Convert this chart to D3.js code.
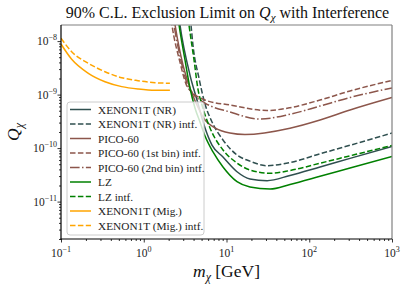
<!DOCTYPE html>
<html>
<head>
<meta charset="utf-8">
<script src="https://cdn.jsdelivr.net/npm/d3@7"></script>
<style>
  html, body { margin: 0; padding: 0; background: #fff; }
  svg { display: block; font-family: "Liberation Serif", "DejaVu Serif", serif; }
</style>
</head>
<body>
<svg id="chart" width="407" height="287"></svg>
<script>
// ---------------- data (mass in GeV, Q_chi) ----------------
const xTicks = [0.1, 1, 10, 100, 1000];
const xTickExp = ["\u22121", "0", "1", "2", "3"];
const yTicks = [1e-11, 1e-10, 1e-9, 1e-8];
const yTickExp = ["\u221211", "\u221210", "\u22129", "\u22128"];

const mXenonNR = [2.59, 2.74, 3.62, 4.40, 5.50, 6.68, 9.07, 13.4, 19.2, 30.9, 58.5, 135, 311, 1000];
const qXenonNR = [3.81e-8, 2.0e-8, 2.32e-9, 7.93e-10, 2.38e-10, 1.14e-10, 6.82e-11, 3.62e-11, 2.65e-11, 2.46e-11, 3.08e-11, 4.44e-11, 6.42e-11, 1.07e-10];

const mXenonNRIntf = [3.52, 3.72, 3.94, 4.65, 5.50, 6.68, 9.07, 13.4, 19.2, 30.9, 58.5, 135, 311, 1000];
const qXenonNRIntf = [3.81e-8, 2.0e-8, 8.20e-9, 2.04e-9, 6.67e-10, 3.08e-10, 1.42e-10, 7.43e-11, 5.70e-11, 4.69e-11, 5.38e-11, 7.82e-11, 1.13e-10, 1.91e-10];

const mPico = [2.26, 2.39, 2.98, 3.62, 4.28, 5.50, 7.26, 11.0, 16.7, 58.5, 135, 311, 1000];
const qPico = [3.5e-8, 2.0e-8, 3.57e-9, 1.33e-9, 6.96e-10, 3.35e-10, 2.38e-10, 1.91e-10, 1.79e-10, 2.35e-10, 3.35e-10, 5.16e-10, 8.83e-10];

const mPico1 = [2.08, 2.19, 2.74, 3.24, 3.94, 5.50, 11.0, 30.9, 58.5, 135, 311, 1000];
const qPico1 = [3.5e-8, 2.0e-8, 4.06e-9, 1.58e-9, 1.07e-9, 7.92e-10, 6.39e-10, 5.05e-10, 5.69e-10, 7.92e-10, 1.17e-9, 1.84e-9];

const mPico2 = [2.19, 2.32, 2.90, 3.42, 3.94, 5.50, 11.0, 25.4, 58.5, 135, 311, 1000];
const qPico2 = [3.5e-8, 2.0e-8, 3.57e-9, 1.45e-9, 1.03e-9, 6.96e-10, 4.73e-10, 3.50e-10, 4.29e-10, 6.12e-10, 8.83e-10, 1.33e-9];

const mLZ = [2.52, 2.67, 3.15, 3.62, 4.16, 4.78, 5.50, 6.87, 9.07, 13.4, 19.2, 33.6, 58.5, 135, 311, 1000];
const qLZ = [3.81e-8, 2.0e-8, 4.44e-9, 1.33e-9, 5.62e-10, 3.08e-10, 1.68e-10, 8.46e-11, 4.44e-11, 2.36e-11, 1.88e-11, 1.72e-11, 2.09e-11, 2.97e-11, 4.25e-11, 6.97e-11];

const mLZIntf = [3.33, 3.52, 4.05, 4.52, 5.06, 6.32, 9.07, 13.4, 19.2, 33.6, 58.5, 135, 311, 1000];
const qLZIntf = [3.81e-8, 2.0e-8, 4.44e-9, 1.27e-9, 6.39e-10, 2.38e-10, 9.21e-11, 5.27e-11, 3.90e-11, 3.38e-11, 3.81e-11, 5.22e-11, 7.18e-11, 1.12e-10];

const mMig = [0.1, 0.1346, 0.214, 0.340, 0.542, 0.852, 1.37, 2.07];
const qMig = [8.83e-9, 4.57e-9, 2.50e-9, 1.74e-9, 1.41e-9, 1.27e-9, 1.20e-9, 1.20e-9];

const mMigIntf = [0.1, 0.1346, 0.214, 0.340, 0.542, 0.852, 1.37, 2.07];
const qMigIntf = [1.13e-8, 6.34e-9, 3.85e-9, 2.68e-9, 2.07e-9, 1.82e-9, 1.67e-9, 1.63e-9];

const seriesNames = ["XENON1T (NR)", "XENON1T (NR) intf.", "PICO-60", "PICO-60 (1st bin) intf.",
  "PICO-60 (2nd bin) intf.", "LZ", "LZ intf.", "XENON1T (Mig.)", "XENON1T (Mig.) intf."];

// ---------------- styles ----------------
const C_SLATE = "#2f4f4f", C_BROWN = "#8c564b", C_GREEN = "#008000", C_ORANGE = "#ffa500";
const DASH = "5.5,2.4", DASHDOT = "9.6,2.4,1.5,2.4";
const series = [
  { name: seriesNames[0], m: mXenonNR, q: qXenonNR, color: C_SLATE, dash: null },
  { name: seriesNames[1], m: mXenonNRIntf, q: qXenonNRIntf, color: C_SLATE, dash: DASH },
  { name: seriesNames[2], m: mPico, q: qPico, color: C_BROWN, dash: null },
  { name: seriesNames[3], m: mPico1, q: qPico1, color: C_BROWN, dash: DASH },
  { name: seriesNames[4], m: mPico2, q: qPico2, color: C_BROWN, dash: DASHDOT },
  { name: seriesNames[5], m: mLZ, q: qLZ, color: C_GREEN, dash: null },
  { name: seriesNames[6], m: mLZIntf, q: qLZIntf, color: C_GREEN, dash: DASH },
  { name: seriesNames[7], m: mMig, q: qMig, color: C_ORANGE, dash: null },
  { name: seriesNames[8], m: mMigIntf, q: qMigIntf, color: C_ORANGE, dash: DASH }
];

// ---------------- layout ----------------
const L = 61, R = 392, T = 25, B = 239;
const svg = d3.select("#chart");
const x = d3.scaleLog().domain([0.1, 1000]).range([L, R]);
const y = d3.scaleLog().domain([2e-12, 2e-8]).range([B, T]);

svg.append("defs").append("clipPath").attr("id", "plotclip")
  .append("rect").attr("x", L).attr("y", T).attr("width", R - L).attr("height", B - T);

// curves
const line = d3.line().x(d => x(d[0])).y(d => y(d[1])).curve(d3.curveMonotoneX);
const gCurves = svg.append("g").attr("clip-path", "url(#plotclip)");
series.forEach(s => {
  const pts = s.m.map((m, i) => [m, s.q[i]]);
  gCurves.append("path").attr("d", line(pts)).attr("fill", "none")
    .attr("stroke", s.color).attr("stroke-width", 1.5)
    .attr("stroke-dasharray", s.dash);
});

// minor ticks
function minors(lo, hi) {
  const out = [];
  for (let e = lo; e < hi; e++) for (let k = 2; k <= 9; k++) out.push(k * Math.pow(10, e));
  return out;
}
const xMinor = minors(-1, 3);
const yMinor = minors(-12, -8).filter(v => v >= 2e-12 && v <= 2e-8);

const gx = svg.append("g").attr("transform", `translate(0,${B})`);
gx.call(d3.axisBottom(x).tickValues(xMinor).tickSize(2).tickFormat("").tickSizeOuter(0));
const gx2 = svg.append("g").attr("transform", `translate(0,${B})`);
gx2.call(d3.axisBottom(x).tickValues(xTicks).tickSize(3.5).tickFormat("").tickSizeOuter(0));
const gy = svg.append("g").attr("transform", `translate(${L},0)`);
gy.call(d3.axisLeft(y).tickValues(yMinor).tickSize(2).tickFormat("").tickSizeOuter(0));
const gy2 = svg.append("g").attr("transform", `translate(${L},0)`);
gy2.call(d3.axisLeft(y).tickValues(yTicks).tickSize(3.5).tickFormat("").tickSizeOuter(0));
[gx, gx2, gy, gy2].forEach(g => {
  g.selectAll(".domain").remove();
  g.selectAll(".tick line").attr("stroke", "#000").attr("stroke-width", 0.8);
});

// tick labels
const tickFs = 11.5;
xTicks.forEach((v, i) => {
  const t = svg.append("text").attr("x", x(v)).attr("y", B + 18).attr("text-anchor", "middle")
    .attr("font-size", tickFs).attr("fill", "#222");
  t.append("tspan").text("10");
  t.append("tspan").attr("dy", -5).attr("font-size", tickFs * 0.7).text(xTickExp[i]);
});
yTicks.forEach((v, i) => {
  const t = svg.append("text").attr("x", L - 4).attr("y", y(v) + 4).attr("text-anchor", "end")
    .attr("font-size", tickFs).attr("fill", "#222");
  t.append("tspan").text("10");
  t.append("tspan").attr("dy", -5).attr("font-size", tickFs * 0.7).text(yTickExp[i]);
});

// frame
svg.append("line").attr("x1", L).attr("x2", R).attr("y1", T).attr("y2", T).attr("stroke", "#808080").attr("stroke-width", 1.2);
svg.append("line").attr("x1", R).attr("x2", R).attr("y1", T).attr("y2", B).attr("stroke", "#808080").attr("stroke-width", 1.2);
svg.append("line").attr("x1", L).attr("x2", L).attr("y1", T).attr("y2", B + 0.6).attr("stroke", "#000").attr("stroke-width", 1.2);
svg.append("line").attr("x1", L - 0.6).attr("x2", R).attr("y1", B).attr("y2", B).attr("stroke", "#000").attr("stroke-width", 1.2);

// title
const title = svg.append("text").attr("x", (L + R) / 2 + 1).attr("y", 18).attr("text-anchor", "middle")
  .attr("font-size", 16).attr("fill", "#111");
title.append("tspan").text("90% C.L. Exclusion Limit on ");
title.append("tspan").attr("font-style", "italic").text("Q");
title.append("tspan").attr("font-style", "italic").attr("font-size", 11).attr("dy", 3).text("\u03c7");
title.append("tspan").attr("dy", -3).text(" with Interference");

// axis labels
const xl = svg.append("text").attr("x", (L + R) / 2).attr("y", 277).attr("text-anchor", "middle")
  .attr("font-size", 17.5).attr("fill", "#111");
xl.append("tspan").attr("font-style", "italic").text("m");
xl.append("tspan").attr("font-style", "italic").attr("font-size", 12).attr("dy", 3.5).text("\u03c7");
xl.append("tspan").attr("dy", -3.5).text(" [GeV]");

const yl = svg.append("text").attr("transform", `translate(19,${(T + B) / 2}) rotate(-90)`)
  .attr("text-anchor", "middle").attr("font-size", 17.5).attr("fill", "#111");
yl.append("tspan").attr("font-style", "italic").text("Q");
yl.append("tspan").attr("font-style", "italic").attr("font-size", 12).attr("dy", 3.5).text("\u03c7");

// legend
const lg = svg.append("g");
lg.append("rect").attr("x", 67).attr("y", 102).attr("width", 137).attr("height", 133).attr("rx", 3)
  .attr("fill", "#fff").attr("fill-opacity", 0.8).attr("stroke", "#cccccc").attr("stroke-width", 1);
series.forEach((s, i) => {
  const cy = 109.5 + i * 14.5;
  lg.append("line").attr("x1", 70).attr("x2", 91).attr("y1", cy).attr("y2", cy)
    .attr("stroke", s.color).attr("stroke-width", 1.5).attr("stroke-dasharray", s.dash);
  lg.append("text").attr("x", 98).attr("y", cy + 4).attr("font-size", 11.3).attr("fill", "#222").text(s.name);
});
</script>
</body>
</html>
